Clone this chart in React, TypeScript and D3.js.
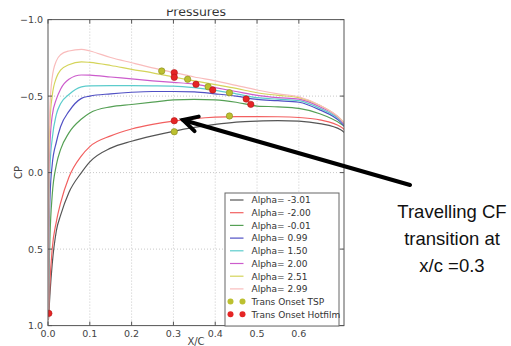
import * as d3 from 'd3';

// x/c stations shared by every pressure curve
const xStations = [0.001, 0.002, 0.005, 0.01, 0.02, 0.03, 0.05, 0.08, 0.1, 0.15, 0.2, 0.25, 0.3, 0.35, 0.4, 0.45, 0.5, 0.55, 0.6, 0.65, 0.7, 0.71];

const cpM301 = [0.96, 0.92, 0.78, 0.6, 0.38, 0.28, 0.13, 0.0, -0.07, -0.16, -0.205, -0.24, -0.27, -0.295, -0.315, -0.33, -0.337, -0.34, -0.337, -0.32, -0.28, -0.26];
const cpM200 = [0.96, 0.9, 0.7, 0.5, 0.32, 0.2, 0.03, -0.11, -0.17, -0.24, -0.285, -0.315, -0.337, -0.352, -0.362, -0.366, -0.366, -0.365, -0.36, -0.345, -0.3, -0.28];
const cpM001 = [0.96, 0.75, 0.4, 0.15, -0.05, -0.15, -0.26, -0.35, -0.39, -0.43, -0.445, -0.46, -0.475, -0.478, -0.475, -0.46, -0.435, -0.43, -0.42, -0.385, -0.32, -0.3];
const cpP099 = [0.96, 0.5, 0.15, -0.05, -0.2, -0.3, -0.4, -0.485, -0.5, -0.515, -0.525, -0.53, -0.53, -0.528, -0.515, -0.5, -0.478, -0.47, -0.46, -0.41, -0.33, -0.3];
const cpP150 = [0.96, 0.3, -0.05, -0.22, -0.38, -0.45, -0.51, -0.56, -0.567, -0.568, -0.568, -0.567, -0.565, -0.555, -0.538, -0.515, -0.49, -0.48, -0.47, -0.42, -0.34, -0.31];
const cpP200 = [0.96, 0.1, -0.2, -0.37, -0.48, -0.545, -0.61, -0.638, -0.637, -0.625, -0.612, -0.6, -0.59, -0.578, -0.555, -0.53, -0.505, -0.49, -0.48, -0.43, -0.345, -0.31];
const cpP251 = [0.96, -0.1, -0.35, -0.5, -0.62, -0.67, -0.705, -0.724, -0.72, -0.7, -0.675, -0.652, -0.625, -0.6, -0.575, -0.55, -0.522, -0.505, -0.49, -0.44, -0.35, -0.32];
const cpP299 = [0.96, -0.2, -0.45, -0.62, -0.73, -0.77, -0.795, -0.806, -0.795, -0.752, -0.718, -0.685, -0.655, -0.625, -0.6, -0.57, -0.54, -0.515, -0.496, -0.44, -0.35, -0.32];

const alphaLabels = ['Alpha= -3.01', 'Alpha= -2.00', 'Alpha= -0.01', 'Alpha= 0.99', 'Alpha= 1.50', 'Alpha= 2.00', 'Alpha= 2.51', 'Alpha= 2.99'];
const alphaColors = ['#555555', '#f26060', '#55a055', '#5050c4', '#5ccccc', '#cc5ccc', '#d4d45a', '#f9bcbc'];
const cpSeries = [cpM301, cpM200, cpM001, cpP099, cpP150, cpP200, cpP251, cpP299];

// transition onset markers
const tspX = [0.272, 0.334, 0.383, 0.434, 0.302, 0.434];
const tspCp = [-0.664, -0.61, -0.561, -0.522, -0.267, -0.37];
const hotX = [0.302, 0.302, 0.354, 0.394, 0.474, 0.485, 0.302, 0.002];
const hotCp = [-0.653, -0.623, -0.577, -0.54, -0.481, -0.446, -0.339, 0.92];

const xTicks = [0, 0.1, 0.2, 0.3, 0.4, 0.5, 0.6];
const yTicks = [-1, -0.5, 0, 0.5, 1];

// annotation arrow (data coords): tail -> tip
const arrowX = [0.866, 0.323];
const arrowCp = [0.081, -0.344];
const noteLines = ['Travelling CF', 'transition at', 'x/c =0.3'];

const W = 511;
const H = 346;
const margin = { top: 19.6, right: 167, bottom: 20.4, left: 48 };
const tspFill = '#bcc030';
const hotFill = '#e52525';

export default function App() {
  const x = d3.scaleLinear().domain([0, 0.708]).range([margin.left, W - margin.right]);
  const y = d3.scaleLinear().domain([-1, 1]).range([margin.top, H - margin.bottom]);
  const [x0, x1] = x.range();
  const [y0, y1] = y.range();

  const line = d3.line<[number, number]>()
    .x(d => x(d[0]))
    .y(d => y(d[1]))
    .curve(d3.curveMonotoneX);

  const fmt = (v: number) => d3.format('.1f')(v).replace('-', '\u2212');
  const font = '"DejaVu Sans", sans-serif';

  // legend
  const lgX = 225, lgY = 193, lgW = 114, lgH = 133, rowH = 12.7, row0 = 200;
  const legendRows = [...alphaLabels, 'Trans Onset TSP', 'Trans Onset Hotfilm'];

  // arrow geometry
  const tx = x(arrowX[1]), ty = y(arrowCp[1]);
  const sx = x(arrowX[0]), sy = y(arrowCp[0]);
  const ang = Math.atan2(sy - ty, sx - tx);
  const wing = 16, spread = (28 * Math.PI) / 180;
  const w1 = [tx + wing * Math.cos(ang - spread), ty + wing * Math.sin(ang - spread)];
  const w2 = [tx + wing * Math.cos(ang + spread), ty + wing * Math.sin(ang + spread)];

  return (
    <svg width={W} height={H} style={{ position: 'absolute', left: 0, top: 0, background: '#fff' }} fontFamily={font}>
      <defs>
        <clipPath id="plotClip">
          <rect x={x0} y={y0} width={x1 - x0} height={y1 - y0} />
        </clipPath>
        <clipPath id="titleClip">
          <rect x={0} y={9.5} width={W} height={12} />
        </clipPath>
      </defs>

      {/* title, top cut off as in the slide */}
      <text x={(x0 + x1) / 2} y={15.8} textAnchor="middle" fontSize={12.5} fill="#333" clipPath="url(#titleClip)">Pressures</text>

      {/* grid */}
      {xTicks.filter(t => t > 0).map(t => (
        <line key={'gx' + t} x1={x(t)} x2={x(t)} y1={y0} y2={y1} stroke="#c8c8c8" strokeDasharray="1,2" />
      ))}
      {yTicks.filter(t => t > -1 && t < 1).map(t => (
        <line key={'gy' + t} x1={x0} x2={x1} y1={y(t)} y2={y(t)} stroke="#c8c8c8" strokeDasharray="1,2" />
      ))}

      {/* curves */}
      <g clipPath="url(#plotClip)">
        {cpSeries.map((s, i) => (
          <path key={i} d={line(xStations.map((xs, j) => [xs, s[j]] as [number, number])) || ''}
            fill="none" stroke={alphaColors[i]} strokeWidth={1.2} />
        ))}
        {tspX.map((v, i) => (
          <circle key={'t' + i} cx={x(v)} cy={y(tspCp[i])} r={3.2} fill={tspFill} stroke="#8a8a20" strokeWidth={0.6} />
        ))}
        {hotX.map((v, i) => (
          <circle key={'h' + i} cx={x(v)} cy={y(hotCp[i])} r={3.2} fill={hotFill} stroke="#b01818" strokeWidth={0.6} />
        ))}
      </g>

      {/* frame */}
      <rect x={x0} y={y0} width={x1 - x0} height={y1 - y0} fill="none" stroke="#555" strokeWidth={1} />

      {/* ticks */}
      {xTicks.map(t => (
        <g key={'xt' + t}>
          <line x1={x(t)} x2={x(t)} y1={y1} y2={y1 - 4} stroke="#555" />
          <line x1={x(t)} x2={x(t)} y1={y0} y2={y0 + 4} stroke="#555" />
          <text x={x(t)} y={y1 + 11.5} textAnchor="middle" fontSize={9.5} fill="#444">{fmt(t)}</text>
        </g>
      ))}
      {yTicks.map(t => (
        <g key={'yt' + t}>
          <line x1={x0} x2={x0 + 4} y1={y(t)} y2={y(t)} stroke="#555" />
          <line x1={x1} x2={x1 - 4} y1={y(t)} y2={y(t)} stroke="#555" />
          <text x={x0 - 5} y={y(t) + 3.5} textAnchor="end" fontSize={9.5} fill="#444">{fmt(t)}</text>
        </g>
      ))}

      {/* axis titles */}
      <text x={(x0 + x1) / 2} y={345} textAnchor="middle" fontSize={10} fill="#444">X/C</text>
      <text transform={`translate(22,${(y0 + y1) / 2}) rotate(-90)`} textAnchor="middle" fontSize={10} fill="#444">CP</text>

      {/* legend */}
      <rect x={lgX} y={lgY} width={lgW} height={lgH} fill="#fff" stroke="#666" strokeWidth={1} />
      {legendRows.map((lab, i) => {
        const cy = row0 + i * rowH;
        return (
          <g key={'lg' + i}>
            {i < 8 ? (
              <line x1={230} x2={243.5} y1={cy} y2={cy} stroke={alphaColors[i]} strokeWidth={1.2} />
            ) : (
              <>
                <circle cx={230.5} cy={cy} r={3} fill={i === 8 ? tspFill : hotFill} />
                <circle cx={242.5} cy={cy} r={3} fill={i === 8 ? tspFill : hotFill} />
              </>
            )}
            <text x={251.5} y={cy + 3.3} fontSize={9} fill="#333">{lab}</text>
          </g>
        );
      })}

      {/* annotation */}
      <g stroke="#000" strokeWidth={4} strokeLinecap="round" fill="none">
        <line x1={sx} y1={sy} x2={tx} y2={ty} />
        <polyline points={`${w1[0]},${w1[1]} ${tx},${ty} ${w2[0]},${w2[1]}`} strokeLinejoin="miter" />
      </g>
      {noteLines.map((s, i) => (
        <text key={'n' + i} x={452} y={218 + i * 27} textAnchor="middle" fontSize={18.5}
          fontFamily='"Liberation Sans", Arial, sans-serif' fill="#111">{s}</text>
      ))}
    </svg>
  );
}
